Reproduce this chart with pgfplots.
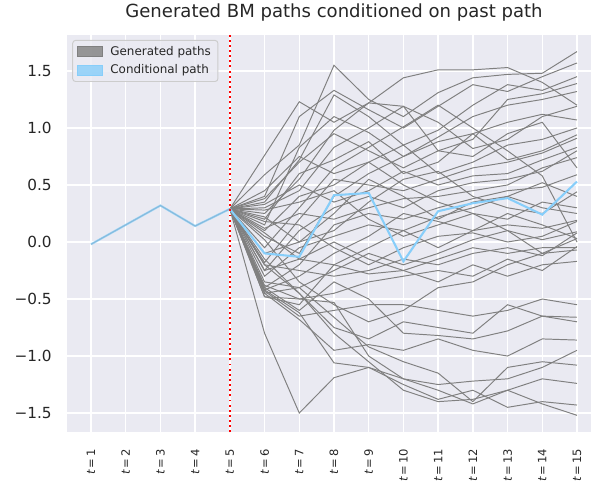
\documentclass[border=0pt]{standalone}
\usepackage{fontspec}
\setmainfont{DejaVu Sans}
\usepackage{pgfplots}
\pgfplotsset{compat=1.18}
\definecolor{bg}{HTML}{EAEAF2}
\definecolor{gp}{HTML}{808080}
\definecolor{cp}{HTML}{87CEFA}
\definecolor{txt}{HTML}{262626}
\definecolor{lframe}{HTML}{CCCCCC}
\newcommand\tl[1]{{\itshape t}\,=\,#1}
\begin{document}
\begin{tikzpicture}
\begin{axis}[
  at={(0,0)}, anchor=south west,
  scale only axis, width=384.9pt, height=286.1pt,
  xmin=0.3, xmax=15.7, ymin=-1.669, ymax=1.816,
  axis background/.style={fill=bg},
  axis line style={draw=none},
  major tick length=0pt,
  grid=major, grid style={white, line width=1pt},
  xtick={1,2,3,4,5,6,7,8,9,10,11,12,13,14,15},
  xticklabels={\tl{1},\tl{2},\tl{3},\tl{4},\tl{5},\tl{6},\tl{7},\tl{8},\tl{9},\tl{10},\tl{11},\tl{12},\tl{13},\tl{14},\tl{15}},
  ytick={-1.5,-1,-0.5,0,0.5,1,1.5},
  yticklabels={−1.5,−1.0,−0.5,0.0,0.5,1.0,1.5},
  x tick label style={rotate=90, anchor=east, inner sep=0pt, font=\fontsize{8.3}{10}\selectfont, text=txt},
  xticklabel shift=12pt,
  y tick label style={anchor=east, inner sep=0pt, font=\fontsize{11}{13}\selectfont, text=txt},
  yticklabel shift=10.6pt,
  title={Generated BM paths conditioned on past path},
  title style={at={(0.5,1)}, anchor=base, yshift=6.7pt, font=\fontsize{13}{15}\selectfont, text=txt, inner sep=0pt},
  legend style={at={(0,1)}, anchor=north west, xshift=4pt, yshift=-3.6pt,
    draw=lframe, fill=bg, fill opacity=0.8, text opacity=1, rounded corners=2pt,
    font=\fontsize{8.6}{10}\selectfont, text=txt, inner xsep=3pt, inner ysep=2pt,
    row sep=1.5pt, column sep=3pt, line width=0.7pt},
  legend cell align=left,
  gpath/.style={gp, line width=0.7pt, forget plot},
]
\addlegendimage{legend image code/.code={\fill[gp, sharp corners] (0pt,-3.6pt) rectangle (18.4pt,3.6pt);}}
\addlegendimage{legend image code/.code={\fill[cp, sharp corners] (0pt,-3.6pt) rectangle (18.4pt,3.6pt);}}
\legend{Generated paths, Conditional path}

\addplot[gpath] coordinates {(1,-0.02)(2,0.15)(3,0.32)(4,0.14)(5,0.29)};
\addplot[gpath] coordinates {(5,0.29)(6,0.76)(7,1.23)(8,1.05)(9,1.22)(10,1.44)(11,1.51)(12,1.51)(13,1.53)(14,1.40)(15,1.20)};
\addplot[gpath] coordinates {(5,0.29)(6,0.59)(7,0.85)(8,1.55)(9,1.25)(10,1.10)(11,1.31)(12,1.44)(13,1.47)(14,1.48)(15,1.67)};
\addplot[gpath] coordinates {(5,0.29)(6,0.40)(7,1.10)(8,1.33)(9,1.16)(10,1.00)(11,1.19)(12,1.38)(13,1.32)(14,1.45)(15,1.57)};
\addplot[gpath] coordinates {(5,0.29)(6,0.35)(7,0.72)(8,1.29)(9,1.10)(10,0.85)(11,0.98)(12,1.20)(13,1.38)(14,1.33)(15,1.45)};
\addplot[gpath] coordinates {(5,0.29)(6,0.25)(7,0.55)(8,0.98)(9,1.22)(10,1.19)(11,0.80)(12,0.90)(13,1.25)(14,1.30)(15,1.39)};
\addplot[gpath] coordinates {(5,0.29)(6,0.15)(7,0.83)(8,1.10)(9,0.96)(10,0.75)(11,0.92)(12,1.10)(13,1.20)(14,1.25)(15,1.32)};
\addplot[gpath] coordinates {(5,0.29)(6,0.30)(7,0.45)(8,0.83)(9,1.00)(10,1.19)(11,1.05)(12,0.82)(13,0.90)(14,1.10)(15,1.19)};
\addplot[gpath] coordinates {(5,0.29)(6,0.20)(7,0.60)(8,0.72)(9,0.88)(10,0.60)(11,0.70)(12,0.95)(13,1.05)(14,1.12)(15,1.07)};
\addplot[gpath] coordinates {(5,0.29)(6,-0.05)(7,0.30)(8,0.65)(9,0.83)(10,1.01)(11,1.20)(12,1.00)(13,0.80)(14,0.58)(15,0.00)};
\addplot[gpath] coordinates {(5,0.29)(6,0.10)(7,0.40)(8,0.50)(9,0.70)(10,0.85)(11,0.60)(12,0.70)(13,0.85)(14,0.90)(15,1.00)};
\addplot[gpath] coordinates {(5,0.29)(6,0.05)(7,-0.10)(8,0.40)(9,0.60)(10,0.75)(11,0.88)(12,0.95)(13,0.72)(14,0.80)(15,0.94)};
\addplot[gpath] coordinates {(5,0.29)(6,-0.18)(7,0.20)(8,0.55)(9,0.50)(10,0.45)(11,0.55)(12,0.65)(13,0.70)(14,0.78)(15,0.91)};
\addplot[gpath] coordinates {(5,0.29)(6,0.33)(7,0.50)(8,0.35)(9,0.45)(10,0.62)(11,0.50)(12,0.58)(13,0.60)(14,0.72)(15,0.83)};
\addplot[gpath] coordinates {(5,0.29)(6,-0.25)(7,0.10)(8,0.30)(9,0.40)(10,0.30)(11,0.45)(12,0.52)(13,0.55)(14,0.62)(15,0.80)};
\addplot[gpath] coordinates {(5,0.29)(6,0.12)(7,0.25)(8,0.20)(9,0.30)(10,0.38)(11,0.40)(12,0.45)(13,0.50)(14,0.65)(15,0.74)};
\addplot[gpath] coordinates {(5,0.29)(6,-0.40)(7,-0.20)(8,0.15)(9,0.25)(10,0.20)(11,0.30)(12,0.38)(13,0.45)(14,0.48)(15,0.59)};
\addplot[gpath] coordinates {(5,0.29)(6,0.22)(7,0.00)(8,0.10)(9,0.35)(10,0.55)(11,0.62)(12,0.40)(13,0.30)(14,0.25)(15,0.44)};
\addplot[gpath] coordinates {(5,0.29)(6,-0.30)(7,-0.05)(8,0.05)(9,0.15)(10,0.10)(11,0.22)(12,0.30)(13,0.40)(14,0.52)(15,0.40)};
\addplot[gpath] coordinates {(5,0.29)(6,0.28)(7,0.35)(8,0.45)(9,0.20)(10,0.05)(11,0.15)(12,0.25)(13,0.20)(14,0.35)(15,0.30)};
\addplot[gpath] coordinates {(5,0.29)(6,-0.42)(7,-0.30)(8,-0.10)(9,0.05)(10,0.25)(11,0.18)(12,0.10)(13,0.15)(14,0.12)(15,0.19)};
\addplot[gpath] coordinates {(5,0.29)(6,0.18)(7,0.15)(8,-0.05)(9,-0.20)(10,-0.05)(11,0.05)(12,0.08)(13,0.00)(14,0.05)(15,0.18)};
\addplot[gpath] coordinates {(5,0.29)(6,-0.45)(7,-0.40)(8,-0.25)(9,-0.10)(10,-0.20)(11,-0.10)(12,0.02)(13,0.10)(14,0.02)(15,0.09)};
\addplot[gpath] coordinates {(5,0.29)(6,-0.20)(7,-0.25)(8,-0.30)(9,-0.25)(10,-0.15)(11,-0.20)(12,-0.10)(13,-0.05)(14,-0.12)(15,0.08)};
\addplot[gpath] coordinates {(5,0.29)(6,0.08)(7,-0.15)(8,-0.20)(9,-0.05)(10,0.10)(11,-0.05)(12,0.10)(13,0.25)(14,0.15)(15,0.03)};
\addplot[gpath] coordinates {(5,0.29)(6,-0.38)(7,-0.50)(8,-0.45)(9,-0.35)(10,-0.30)(11,-0.25)(12,-0.30)(13,-0.15)(14,-0.25)(15,-0.04)};
\addplot[gpath] coordinates {(5,0.29)(6,0.02)(7,-0.35)(8,-0.55)(9,-0.70)(10,-0.60)(11,-0.40)(12,-0.35)(13,-0.20)(14,-0.10)(15,-0.07)};
\addplot[gpath] coordinates {(5,0.29)(6,-0.48)(7,-0.55)(8,-0.20)(9,-0.28)(10,-0.25)(11,-0.35)(12,-0.20)(13,-0.30)(14,-0.20)(15,-0.17)};
\addplot[gpath] coordinates {(5,0.29)(6,-0.43)(7,-0.65)(8,-0.60)(9,-0.55)(10,-0.55)(11,-0.60)(12,-0.65)(13,-0.60)(14,-0.50)(15,-0.55)};
\addplot[gpath] coordinates {(5,0.29)(6,-0.15)(7,-0.45)(8,-0.75)(9,-0.85)(10,-0.70)(11,-0.75)(12,-0.80)(13,-0.55)(14,-0.65)(15,-0.66)};
\addplot[gpath] coordinates {(5,0.29)(6,-0.40)(7,-0.60)(8,-0.35)(9,-0.50)(10,-0.80)(11,-0.82)(12,-0.85)(13,-0.78)(14,-0.65)(15,-0.70)};
\addplot[gpath] coordinates {(5,0.29)(6,-0.45)(7,-0.68)(8,-0.95)(9,-0.90)(10,-0.95)(11,-0.85)(12,-0.95)(13,-1.00)(14,-0.85)(15,-0.86)};
\addplot[gpath] coordinates {(5,0.29)(6,-0.80)(7,-1.50)(8,-1.19)(9,-1.10)(10,-1.20)(11,-1.25)(12,-1.22)(13,-1.20)(14,-1.10)(15,-0.95)};
\addplot[gpath] coordinates {(5,0.29)(6,-0.35)(7,-0.40)(8,-0.66)(9,-0.92)(10,-1.05)(11,-1.15)(12,-1.40)(13,-1.10)(14,-1.05)(15,-1.08)};
\addplot[gpath] coordinates {(5,0.29)(6,-0.48)(7,-0.50)(8,-0.53)(9,-1.00)(10,-1.20)(11,-1.30)(12,-1.42)(13,-1.30)(14,-1.20)(15,-1.24)};
\addplot[gpath] coordinates {(5,0.29)(6,-0.42)(7,-0.62)(8,-1.06)(9,-1.10)(10,-1.25)(11,-1.38)(12,-1.30)(13,-1.45)(14,-1.40)(15,-1.43)};
\addplot[gpath] coordinates {(5,0.29)(6,-0.20)(7,-0.45)(8,-0.80)(9,-1.05)(10,-1.30)(11,-1.40)(12,-1.38)(13,-1.30)(14,-1.42)(15,-1.52)};
\addplot[gpath] coordinates {(5,0.29)(6,0.38)(7,0.70)(8,0.95)(9,0.80)(10,0.65)(11,0.80)(12,0.75)(13,0.95)(14,1.05)(15,0.65)};
\addplot[gpath] coordinates {(5,0.29)(6,-0.10)(7,0.00)(8,0.25)(9,0.55)(10,0.40)(11,0.20)(12,0.35)(13,0.40)(14,0.30)(15,0.25)};
\addplot[gpath] coordinates {(5,0.29)(6,-0.25)(7,-0.15)(8,0.00)(9,-0.15)(10,-0.25)(11,-0.15)(12,-0.05)(13,-0.10)(14,-0.05)(15,-0.05)};
\addplot[gpath] coordinates {(5,0.29)(6,0.45)(7,0.75)(8,0.60)(9,0.70)(10,0.50)(11,0.35)(12,0.25)(13,0.10)(14,-0.10)(15,0.03)};

\addplot[cp, line width=1.5pt, opacity=0.75, forget plot] coordinates {(1,-0.02)(2,0.15)(3,0.32)(4,0.14)(5,0.29)};
\addplot[cp, line width=1.5pt, forget plot] coordinates {(5,0.29)(6,-0.10)(7,-0.13)(8,0.41)(9,0.43)(10,-0.17)(11,0.27)(12,0.34)(13,0.385)(14,0.24)(15,0.53)};

\addplot[red, line width=1.4pt, dash pattern=on 1.4pt off 2.3pt, forget plot] coordinates {(5,-1.669)(5,1.816)};
\end{axis}
\pgfresetboundingbox
\path[use as bounding box] (-48.02pt,-36.5pt) rectangle (377.5pt,311.26pt);
\end{tikzpicture}
\end{document}
